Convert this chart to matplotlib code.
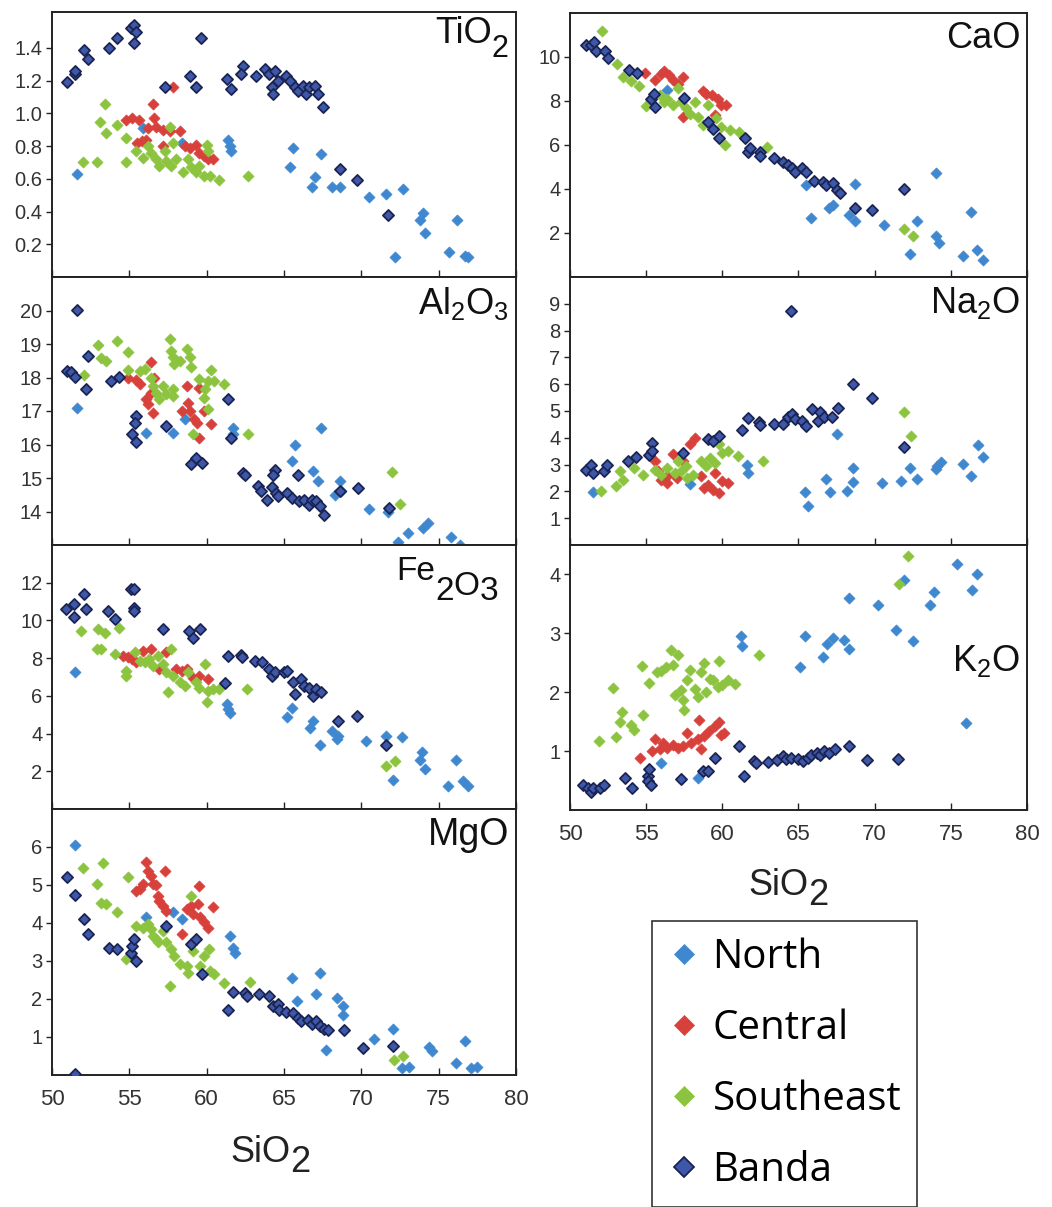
import matplotlib
matplotlib.use('Agg')
import matplotlib.pyplot as plt
from matplotlib.lines import Line2D

# Major-element data for the four arc segments: (SiO2, oxide) in wt%
tio2_north = [(51.6, 0.63), (55.9, 0.91), (58.4, 0.82), (61.4, 0.84), (61.5, 0.80), (61.6, 0.77),
              (65.6, 0.79), (65.4, 0.67), (67.4, 0.75), (67.0, 0.61), (66.8, 0.55), (68.1, 0.55),
              (68.6, 0.55), (70.5, 0.49), (71.6, 0.51), (72.7, 0.54), (74.0, 0.39), (73.8, 0.35),
              (74.1, 0.27), (76.2, 0.35), (75.7, 0.15), (72.2, 0.12), (76.7, 0.13), (76.9, 0.12)]
tio2_central = [(54.8, 0.96), (55.2, 0.97), (55.6, 0.96), (56.5, 1.06), (56.6, 0.97), (56.7, 0.92),
                (56.2, 0.91), (55.8, 0.83), (55.5, 0.82), (56.1, 0.84), (57.2, 0.90), (57.6, 0.89),
                (57.8, 1.16), (58.3, 0.89), (58.6, 0.80), (58.9, 0.79), (59.3, 0.81), (59.5, 0.76),
                (59.8, 0.74), (60.1, 0.72), (60.4, 0.72), (57.2, 0.80)]
tio2_southeast = [(53.4, 1.06), (53.1, 0.95), (53.5, 0.88), (54.2, 0.93), (54.8, 0.85), (52.0, 0.70),
                  (52.9, 0.70), (54.8, 0.70), (55.4, 0.77), (55.9, 0.73), (56.2, 0.80), (56.4, 0.76),
                  (56.7, 0.72), (56.9, 0.68), (57.3, 0.77), (57.4, 0.71), (57.6, 0.92), (57.7, 0.68),
                  (57.8, 0.82), (58.0, 0.72), (58.5, 0.64), (58.8, 0.72), (59.0, 0.67), (59.3, 0.64),
                  (59.5, 0.68), (59.8, 0.62), (60.0, 0.81), (60.1, 0.77), (60.2, 0.62), (60.8, 0.59),
                  (62.7, 0.62)]
tio2_banda = [(51.0, 1.19), (51.5, 1.24), (51.5, 1.26), (52.1, 1.39), (52.3, 1.33), (53.7, 1.40),
              (54.2, 1.46), (55.1, 1.52), (55.3, 1.54), (55.4, 1.50), (55.3, 1.43), (57.3, 1.16),
              (58.9, 1.23), (59.3, 1.16), (59.65, 1.46), (61.3, 1.21), (61.55, 1.15), (62.35, 1.29),
              (62.2, 1.24), (63.2, 1.23), (63.8, 1.27), (64.0, 1.24), (64.4, 1.26), (64.25, 1.16),
              (64.3, 1.12), (64.6, 1.20), (65.1, 1.23), (65.4, 1.20), (65.7, 1.16), (65.9, 1.14),
              (66.2, 1.17), (66.4, 1.12), (66.6, 1.16), (67.0, 1.17), (67.2, 1.12), (67.5, 1.04),
              (68.6, 0.66), (69.7, 0.59), (71.7, 0.38)]

al2o3_north = [(51.6, 17.08), (56.1, 16.35), (57.8, 16.35), (58.6, 16.75), (61.7, 16.5), (61.7, 16.3),
               (65.5, 15.5), (65.7, 15.98), (66.9, 15.2), (67.2, 14.92), (67.4, 16.48), (68.6, 14.92),
               (68.3, 14.48), (68.7, 14.6), (70.5, 14.08), (71.7, 13.98), (72.4, 13.1), (73.0, 13.35),
               (74.0, 13.5), (74.3, 13.65), (75.8, 13.25), (76.4, 13.0)]
al2o3_central = [(54.9, 18.0), (55.4, 17.92), (55.7, 17.82), (56.4, 18.45), (56.05, 17.35), (56.2, 17.2),
                 (56.5, 16.95), (56.4, 17.55), (56.6, 18.0), (58.7, 17.75), (58.4, 17.0), (58.8, 17.25),
                 (58.9, 17.0), (59.2, 16.75), (59.4, 16.65), (59.5, 17.7), (59.5, 16.2), (60.3, 16.6),
                 (59.8, 17.0)]
al2o3_southeast = [(52.1, 18.08), (53.0, 18.98), (53.2, 18.58), (53.5, 18.48), (54.2, 19.08), (54.9, 18.77),
                   (54.9, 18.22), (55.7, 18.2), (56.0, 18.25), (56.4, 18.0), (56.5, 17.75), (56.75, 17.55),
                   (56.95, 17.35), (57.2, 17.75), (57.4, 17.5), (57.65, 19.15), (57.7, 18.8), (57.8, 18.6),
                   (57.9, 18.4), (58.25, 18.5), (57.8, 17.45), (57.8, 17.65), (58.7, 18.85), (58.9, 18.6),
                   (59.0, 18.3), (59.5, 17.95), (59.8, 17.4), (59.9, 17.65), (60.1, 17.9), (60.3, 18.22),
                   (60.5, 17.9), (61.1, 17.8), (60.1, 17.05), (59.1, 16.3), (62.7, 16.3), (72.0, 15.18),
                   (72.5, 14.22)]
al2o3_banda = [(51.6, 20.02), (51.0, 18.2), (51.25, 18.15), (51.5, 18.02), (52.2, 17.65), (52.3, 18.65),
               (53.8, 17.9), (54.3, 18.02), (55.4, 16.85), (55.35, 16.65), (55.2, 16.32), (55.4, 16.08),
               (57.4, 16.55), (59.0, 15.42), (59.3, 15.6), (59.7, 15.45), (61.4, 17.35), (61.6, 16.2),
               (62.35, 15.15), (62.5, 15.1), (63.3, 14.75), (63.5, 14.6), (63.9, 14.35), (64.4, 15.25),
               (64.3, 15.08), (64.2, 14.72), (64.5, 14.55), (64.6, 14.45), (65.2, 14.55), (65.5, 14.4),
               (65.9, 15.1), (66.0, 14.3), (66.3, 14.35), (66.6, 14.2), (66.8, 14.35), (67.1, 14.3),
               (67.3, 14.15), (67.6, 13.9), (68.6, 14.6), (69.8, 14.7), (71.8, 14.1)]

fe2o3_north = [(51.5, 7.24), (61.3, 5.56), (61.4, 5.30), (61.5, 5.09), (65.2, 4.86), (65.5, 5.33),
               (66.9, 4.68), (66.7, 4.28), (67.3, 3.39), (68.1, 4.15), (68.4, 3.71), (68.5, 3.89),
               (70.3, 3.62), (71.6, 3.89), (72.05, 1.56), (72.6, 3.80), (73.9, 3.0), (73.8, 2.62),
               (74.1, 2.12), (75.6, 1.24), (76.1, 2.62), (76.6, 1.5), (76.9, 1.24)]
fe2o3_central = [(54.6, 8.12), (54.9, 8.08), (55.2, 7.94), (55.45, 7.77), (55.9, 8.38), (56.4, 8.47),
                 (56.95, 7.41), (57.4, 8.3), (58.0, 7.41), (58.4, 7.33), (58.7, 7.41), (59.5, 7.06),
                 (60.1, 6.92), (59.1, 6.97)]
fe2o3_southeast = [(51.9, 9.44), (52.9, 8.47), (53.2, 8.47), (53.0, 9.53), (53.4, 9.35), (54.05, 8.2),
                   (54.3, 9.62), (54.8, 7.33), (54.8, 7.06), (55.35, 8.3), (55.7, 7.86), (56.0, 7.77),
                   (56.3, 7.94), (56.5, 7.59), (56.85, 8.12), (57.2, 7.68), (57.4, 7.24), (57.5, 6.18),
                   (57.7, 8.47), (57.8, 7.06), (58.3, 6.71), (58.6, 6.53), (58.8, 7.24), (59.3, 6.71),
                   (59.5, 6.44), (59.9, 7.68), (60.0, 5.65), (60.1, 6.27), (60.4, 6.36), (60.8, 6.36),
                   (62.6, 6.39), (71.6, 2.30), (72.2, 2.56)]
fe2o3_banda = [(50.9, 10.62), (51.4, 10.85), (51.4, 10.2), (52.05, 11.38), (52.2, 10.62), (53.6, 10.5),
               (54.1, 10.06), (55.1, 11.68), (55.3, 11.68), (55.3, 10.68), (55.3, 10.5), (57.2, 9.57),
               (58.85, 9.44), (59.1, 9.09), (59.55, 9.53), (61.2, 6.67), (61.4, 8.12), (62.2, 8.16),
               (62.3, 8.08), (63.1, 7.86), (63.6, 7.77), (64.0, 7.41), (64.2, 7.06), (64.4, 7.27),
               (65.0, 7.24), (65.2, 7.33), (65.6, 6.71), (65.7, 6.09), (66.1, 6.89), (66.3, 6.53),
               (66.6, 6.44), (66.9, 6.0), (67.1, 6.36), (67.4, 6.22), (68.5, 4.68), (69.7, 4.95),
               (71.6, 3.39)]

mgo_north = [(51.5, 6.06), (56.05, 4.15), (57.8, 4.30), (58.4, 4.10), (61.5, 3.66), (61.7, 3.35),
             (61.8, 3.22), (65.5, 2.56), (65.85, 1.94), (67.05, 2.14), (67.3, 2.69), (67.7, 0.65),
             (68.4, 2.03), (68.8, 1.81), (68.8, 1.59), (70.8, 0.95), (72.05, 1.21), (72.6, 0.18),
             (73.1, 0.21), (74.4, 0.75), (74.6, 0.62), (76.1, 0.31), (76.7, 0.89), (77.1, 0.18),
             (77.5, 0.22)]
mgo_central = [(56.05, 5.60), (56.2, 5.38), (56.4, 5.25), (56.5, 5.03), (55.45, 4.85), (55.7, 4.90),
               (55.9, 5.03), (56.75, 4.99), (56.85, 4.72), (56.95, 4.59), (57.2, 4.46), (57.3, 5.38),
               (57.4, 4.32), (58.4, 3.71), (58.7, 4.37), (59.0, 4.46), (59.1, 4.24), (59.5, 4.97),
               (59.55, 4.15), (59.8, 4.02), (60.1, 3.88), (60.4, 4.41), (59.45, 4.5)]
mgo_southeast = [(52.0, 5.44), (52.9, 5.03), (53.3, 5.59), (53.2, 4.53), (53.5, 4.50), (54.2, 4.28),
                 (54.8, 3.05), (54.9, 5.21), (55.45, 3.93), (55.9, 3.88), (56.2, 3.97), (56.4, 3.84),
                 (56.5, 3.66), (56.75, 3.57), (56.85, 3.49), (57.2, 3.80), (57.4, 3.49), (57.6, 2.34),
                 (57.7, 3.31), (57.9, 3.13), (58.25, 2.91), (58.7, 2.87), (58.8, 2.69), (59.0, 4.72),
                 (59.1, 3.27), (59.55, 2.87), (59.8, 3.13), (60.15, 3.31), (60.2, 2.74), (60.5, 2.65),
                 (61.1, 2.43), (62.8, 2.45), (72.1, 0.40), (72.7, 0.49)]
mgo_banda = [(51.0, 5.21), (51.5, 4.74), (51.5, 0.03), (52.1, 4.10), (52.3, 3.71), (53.7, 3.33),
             (54.2, 3.31), (55.1, 3.22), (55.2, 3.40), (55.3, 3.57), (55.4, 3.0), (57.4, 3.93),
             (59.0, 3.44), (59.3, 3.57), (59.7, 2.65), (61.4, 1.71), (61.7, 2.18), (62.45, 2.15),
             (62.6, 2.08), (63.4, 2.12), (64.0, 2.09), (64.3, 1.81), (64.6, 1.86), (64.7, 1.71),
             (65.15, 1.65), (65.6, 1.63), (65.9, 1.50), (66.1, 1.41), (66.55, 1.46), (66.8, 1.35),
             (67.05, 1.41), (67.3, 1.30), (67.6, 1.21), (67.85, 1.18), (68.9, 1.19), (70.1, 0.71),
             (72.05, 0.77)]

cao_north = [(56.4, 8.49), (65.5, 4.16), (65.8, 2.68), (67.0, 3.13), (67.25, 3.28), (68.7, 4.22),
             (68.3, 2.83), (68.7, 2.53), (70.6, 2.35), (72.3, 1.05), (72.8, 2.54), (74.0, 4.72),
             (74.0, 1.85), (74.2, 1.55), (75.8, 0.97), (76.3, 2.94), (76.75, 1.25), (77.1, 0.79)]
cao_central = [(54.9, 9.29), (55.55, 8.94), (56.0, 9.25), (56.2, 9.35), (56.5, 9.17), (56.75, 8.94),
               (57.4, 9.09), (57.1, 8.79), (58.7, 8.45), (58.9, 8.34), (59.3, 8.26), (59.7, 8.11),
               (59.9, 7.81), (60.25, 7.81), (57.4, 7.28), (59.5, 7.36)]
cao_southeast = [(52.1, 11.16), (53.1, 9.70), (53.5, 9.09), (54.5, 8.69), (55.0, 7.78), (55.9, 8.29),
                 (56.2, 7.96), (56.4, 8.11), (56.75, 7.81), (57.1, 8.57), (57.3, 7.96), (57.6, 7.66),
                 (57.85, 7.43), (58.2, 7.96), (58.4, 7.28), (58.7, 6.91), (59.05, 7.81), (59.6, 7.21),
                 (59.9, 6.83), (60.2, 6.0), (60.5, 6.68), (61.1, 6.6), (62.9, 5.92), (71.9, 2.2),
                 (72.5, 1.85), (54.0, 8.9)]
cao_banda = [(51.07, 10.56), (51.4, 10.53), (51.6, 10.68), (51.7, 10.26), (52.3, 10.26), (52.5, 9.95),
             (53.9, 9.40), (54.4, 9.29), (55.3, 8.11), (55.5, 8.34), (55.55, 7.74), (57.5, 8.14),
             (59.05, 7.03), (59.4, 6.72), (59.8, 6.30), (61.5, 6.30), (61.7, 5.67), (61.8, 5.88),
             (62.5, 5.70), (62.5, 5.52), (63.4, 5.40), (64.0, 5.22), (64.3, 5.09), (64.6, 4.94),
             (64.8, 4.79), (65.2, 4.94), (65.5, 4.79), (66.0, 4.37), (66.6, 4.31), (66.8, 4.19),
             (67.25, 4.26), (67.5, 3.96), (67.7, 3.81), (68.7, 3.13), (69.8, 3.06), (71.9, 4.0)]

na2o_north = [(51.5, 1.98), (57.85, 2.28), (61.6, 3.0), (61.7, 2.69), (65.4, 1.98), (65.65, 1.44),
              (66.8, 2.48), (67.1, 1.98), (67.5, 4.16), (68.2, 2.03), (68.6, 2.35), (68.6, 2.88),
              (70.5, 2.32), (71.7, 2.40), (72.3, 2.88), (72.8, 2.48), (74.0, 2.82), (74.1, 2.94),
              (74.35, 3.11), (75.8, 3.03), (76.3, 2.57), (76.8, 3.74), (77.1, 3.28)]
na2o_central = [(55.55, 3.13), (55.8, 2.76), (56.0, 2.44), (56.4, 2.32), (56.75, 3.38), (57.0, 2.5),
                (57.4, 3.13), (57.85, 3.76), (58.2, 4.01), (58.6, 2.57), (58.8, 2.13), (59.05, 2.25),
                (59.4, 2.07), (59.75, 1.94), (60.0, 2.38), (60.4, 2.32), (59.5, 2.69), (56.4, 2.57)]
na2o_southeast = [(52.05, 2.03), (53.0, 2.19), (53.3, 2.76), (53.5, 2.44), (54.2, 2.88), (54.8, 2.63),
                  (55.55, 2.78), (56.0, 2.63), (56.4, 2.88), (56.9, 2.69), (57.1, 3.13), (57.3, 2.76),
                  (57.6, 2.94), (58.1, 2.63), (58.6, 3.13), (58.9, 2.94), (59.2, 3.26), (59.5, 3.07),
                  (59.8, 3.76), (60.0, 3.45), (60.4, 3.51), (61.0, 3.32), (62.7, 3.13), (71.9, 4.95),
                  (72.4, 4.05), (57.7, 2.5)]
na2o_banda = [(51.07, 2.78), (51.4, 2.98), (51.5, 2.69), (52.2, 2.76), (52.4, 3.0), (53.8, 3.13),
              (54.3, 3.28), (55.2, 3.35), (55.4, 3.82), (55.4, 3.51), (57.4, 3.45), (59.05, 3.95),
              (59.4, 3.89), (59.8, 4.08), (61.3, 4.29), (61.7, 4.73), (62.4, 4.58), (62.5, 4.49),
              (63.4, 4.52), (64.0, 4.52), (64.3, 4.77), (64.6, 4.89), (64.8, 4.70), (65.2, 4.64),
              (65.5, 4.45), (64.5, 8.75), (65.9, 5.08), (66.4, 4.95), (66.3, 4.64), (66.7, 4.77),
              (67.2, 4.77), (67.6, 5.12), (68.6, 6.02), (69.8, 5.5), (71.9, 3.66)]

k2o_north = [(56.0, 0.79), (58.4, 0.55), (61.2, 2.95), (61.3, 2.79), (65.1, 2.43), (65.4, 2.96),
             (66.6, 2.60), (66.9, 2.82), (67.25, 2.92), (68.0, 2.89), (68.3, 3.60), (68.3, 2.74),
             (70.2, 3.48), (71.4, 3.06), (71.9, 3.90), (72.5, 2.87), (73.6, 3.48), (73.9, 3.71),
             (75.4, 4.18), (76.0, 1.48), (76.4, 3.73), (76.75, 4.01)]
k2o_central = [(54.6, 0.89), (55.4, 1.0), (55.55, 1.20), (55.9, 1.03), (56.1, 1.14), (56.4, 1.06),
               (56.75, 1.11), (57.1, 1.06), (57.4, 1.08), (57.7, 1.31), (57.95, 1.14), (58.5, 1.53),
               (58.4, 1.20), (58.6, 1.03), (58.8, 1.25), (59.15, 1.34), (59.5, 1.42), (59.8, 1.50),
               (59.9, 1.28), (60.1, 1.31)]
k2o_southeast = [(51.9, 1.18), (52.8, 2.07), (53.0, 1.24), (53.3, 1.49), (53.4, 1.67), (54.0, 1.45),
                 (54.2, 1.36), (54.8, 1.62), (54.7, 2.44), (55.2, 2.16), (55.7, 2.35), (56.0, 2.36),
                 (56.3, 2.43), (56.6, 2.72), (56.75, 2.46), (56.9, 1.95), (57.1, 2.63), (57.3, 2.04),
                 (57.4, 1.87), (57.5, 1.70), (57.7, 2.21), (57.85, 2.37), (58.2, 2.06), (58.4, 1.92),
                 (58.6, 2.35), (58.8, 2.50), (58.9, 2.0), (59.2, 2.23), (59.4, 2.21), (59.7, 2.09),
                 (59.8, 2.53), (60.0, 2.12), (60.4, 2.21), (60.8, 2.14), (62.4, 2.64), (71.6, 3.83),
                 (72.2, 4.31)]
k2o_banda = [(50.85, 0.42), (51.2, 0.38), (51.4, 0.30), (51.5, 0.37), (52.0, 0.37), (52.2, 0.42),
             (53.6, 0.55), (54.1, 0.38), (55.1, 0.58), (55.2, 0.69), (55.1, 0.49), (55.3, 0.42),
             (57.3, 0.53), (58.7, 0.66), (59.05, 0.66), (59.5, 0.89), (61.1, 1.09), (61.4, 0.58),
             (62.1, 0.83), (62.2, 0.79), (63.0, 0.81), (63.6, 0.85), (64.0, 0.92), (64.2, 0.87),
             (64.5, 0.89), (65.0, 0.86), (65.3, 0.83), (65.6, 0.89), (65.8, 0.93), (66.2, 0.97),
             (66.4, 0.94), (66.7, 1.0), (67.0, 0.97), (67.4, 1.04), (68.3, 1.09), (69.5, 0.85),
             (71.55, 0.87)]

groups = ['North', 'Central', 'Southeast', 'Banda']
x_ticks = [50, 55, 60, 65, 70, 75, 80]

face = {'North': '#3f88d0', 'Central': '#d8413b', 'Southeast': '#8cc43f', 'Banda': '#3d58a8'}
edge = {'North': '#3f88d0', 'Central': '#d8413b', 'Southeast': '#8cc43f', 'Banda': '#1b2352'}

plt.rcParams['font.family'] = ['Liberation Sans', 'DejaVu Sans']
plt.rcParams['mathtext.default'] = 'regular'

fig = plt.figure(figsize=(10.52, 12.07), dpi=100)
W, H = 1052.0, 1207.0


def make_axes(left, top, right, bottom):
    return fig.add_axes([left / W, 1 - bottom / H, (right - left) / W, (bottom - top) / H])


def formula(ax, xy, coords, pieces, color='#111111'):
    # chain text pieces left to right; each piece is (text, size, drop below baseline in points)
    s, size, drop = pieces[0]
    prev = ax.annotate(s, xy=xy, xycoords=coords, xytext=(0, -drop), textcoords='offset points',
                       fontsize=size, ha='left', va='baseline', color=color, annotation_clip=False)
    prev_drop = drop
    for s, size, drop in pieces[1:]:
        prev = ax.annotate(s, xy=(1, 0), xycoords=prev, xytext=(0, prev_drop - drop),
                           textcoords='offset points', fontsize=size, ha='left', va='bottom',
                           color=color, annotation_clip=False)
        prev_drop = drop


# (label, data per group, ylim, yticks, tick format, box in pixels, label size)
panels = [
    ('TiO$_2$', [tio2_north, tio2_central, tio2_southeast, tio2_banda], (0, 1.62),
     [0.2, 0.4, 0.6, 0.8, 1.0, 1.2, 1.4], '{:.1f}', (52, 12, 516, 277), None),
    ('Al$_2$O$_3$', [al2o3_north, al2o3_central, al2o3_southeast, al2o3_banda], (13, 21),
     [14, 15, 16, 17, 18, 19, 20], '{:d}', (52, 277, 516, 545), 26),
    ('Fe$_2$O$_3$', [fe2o3_north, fe2o3_central, fe2o3_southeast, fe2o3_banda], (0, 14),
     [2, 4, 6, 8, 10, 12], '{:d}', (52, 545, 516, 809), None),
    ('MgO', [mgo_north, mgo_central, mgo_southeast, mgo_banda], (0, 7),
     [1, 2, 3, 4, 5, 6], '{:d}', (52, 809, 516, 1075), 27),
    ('CaO', [cao_north, cao_central, cao_southeast, cao_banda], (0, 12),
     [2, 4, 6, 8, 10], '{:d}', (570, 13, 1027, 277), 26),
    ('Na$_2$O', [na2o_north, na2o_central, na2o_southeast, na2o_banda], (0, 10),
     [1, 2, 3, 4, 5, 6, 7, 8, 9], '{:d}', (570, 277, 1027, 545), 26),
    ('K$_2$O', [k2o_north, k2o_central, k2o_southeast, k2o_banda], (0, 4.5),
     [1, 2, 3, 4], '{:d}', (570, 545, 1027, 810), 26),
]

axes = []
for label, series, ylim, yticks, fmt, box, lsize in panels:
    ax = make_axes(*box)
    for g, pts in zip(groups, series):
        xs = [p[0] for p in pts]
        ys = [p[1] for p in pts]
        ax.scatter(xs, ys, marker='D', s=32, c=face[g], edgecolors=edge[g],
                   linewidths=1.3 if g == 'Banda' else 0.5, label=g, zorder=3)
    ax.set_xlim(50, 80)
    ax.set_ylim(*ylim)
    ax.set_xticks(x_ticks)
    ax.set_yticks(yticks)
    ax.set_yticklabels([fmt.format(t) for t in yticks])
    ax.tick_params(axis='x', direction='in', length=5, width=1, color='#222222',
                   labelsize=16, labelcolor='#333333', pad=10)
    ax.tick_params(axis='y', direction='out', length=4, width=1, color='#222222',
                   labelsize=14.5, labelcolor='#333333', pad=3)
    ax.tick_params(axis='x', labelbottom=False)
    for sp in ax.spines.values():
        sp.set_linewidth(1.4)
        sp.set_color('#222222')
    if lsize is not None:
        ly = 0.63 if label.startswith('K') else 0.97
        ax.text(0.985, ly, label, transform=ax.transAxes, ha='right', va='top',
                fontsize=lsize, color='#111111')
    axes.append(ax)

# oxide names with full-size lowered subscripts
formula(axes[0], (0.825, 0.883), 'axes fraction', [('TiO', 26, 0), ('2', 22, 9.5)])
formula(axes[2], (0.742, 0.867), 'axes fraction',
        [('Fe', 24, 0), ('2', 24, 14), ('O', 24, 10.5), ('3', 24, 14)])

# bottom panels of each column carry the SiO2 scale
axes[3].tick_params(axis='x', labelbottom=True)
axes[6].tick_params(axis='x', labelbottom=True)
formula(axes[3], (230, H - 1162), 'figure pixels', [('SiO', 26, 0), ('2', 26, 7)], color='#222222')
formula(axes[6], (748, H - 895), 'figure pixels', [('SiO', 26, 0), ('2', 26, 7)], color='#222222')

handles = [Line2D([], [], linestyle='none', marker='D', markersize=10,
                  markerfacecolor=face[g], markeredgecolor=edge[g],
                  markeredgewidth=1.3 if g == 'Banda' else 0.5) for g in groups]
leg = fig.legend(handles, groups, loc='upper left', bbox_to_anchor=(652 / W, 1 - 921 / H),
                 frameon=True, fancybox=False, edgecolor='#333333', framealpha=1,
                 prop={'family': 'Open Sans', 'size': 29}, borderpad=0.4, handlelength=0.8,
                 handletextpad=0.3, labelspacing=0.76, borderaxespad=0)
leg.get_frame().set_linewidth(1.2)

fig.savefig('out.png', dpi=100, facecolor='white')
